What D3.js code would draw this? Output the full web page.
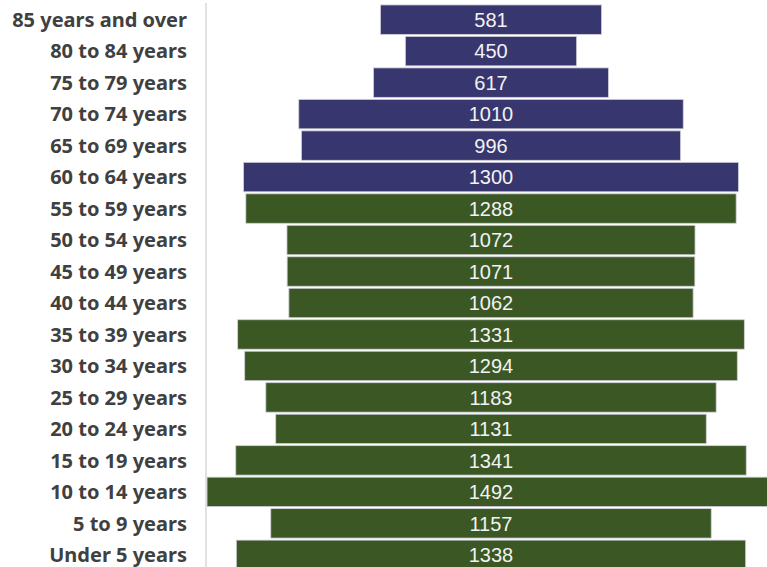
<!DOCTYPE html>
<html>
<head>
<meta charset="utf-8">
<script src="https://cdn.jsdelivr.net/npm/d3@7"></script>
<style>
  body { margin: 0; background: #fff; }
  .label { font-family: "Noto Sans", "Open Sans", sans-serif; font-weight: bold; fill: #404040; }
  .value { font-family: "Liberation Sans", Arial, sans-serif; fill: #f2f2f2; }
</style>
</head>
<body>
<div class="chart"></div>
<script>
const ageGroups = ["85 years and over", "80 to 84 years", "75 to 79 years", "70 to 74 years",
  "65 to 69 years", "60 to 64 years", "55 to 59 years", "50 to 54 years", "45 to 49 years",
  "40 to 44 years", "35 to 39 years", "30 to 34 years", "25 to 29 years", "20 to 24 years",
  "15 to 19 years", "10 to 14 years", "5 to 9 years", "Under 5 years"];
const population = [581, 450, 617, 1010, 996, 1300, 1288, 1072, 1071, 1062,
  1331, 1294, 1183, 1131, 1341, 1492, 1157, 1338];
const seniorGroups = ["85 years and over", "80 to 84 years", "75 to 79 years", "70 to 74 years",
  "65 to 69 years", "60 to 64 years"];

const data = ageGroups.map((g, i) => ({ group: g, value: population[i] }));

const width = 767, height = 567;
const svg = d3.select(".chart").append("svg")
    .attr("width", width)
    .attr("height", height);

const x = d3.scaleLinear()
    .domain([-750, 750])
    .range([205.5, 776.5]);

const y = d3.scaleBand()
    .domain(ageGroups)
    .range([4, 570.5])
    .paddingInner(0.065)
    .paddingOuter(0.03);

// axis line
svg.append("line")
    .attr("x1", 206).attr("x2", 206)
    .attr("y1", 3).attr("y2", height)
    .attr("stroke", "#d9d9d9")
    .attr("stroke-width", 1.5);

const rows = svg.selectAll(".row")
    .data(data).enter()
  .append("g")
    .attr("class", "row");

rows.append("rect")
    .attr("x", (d) => x(-d.value / 2))
    .attr("y", (d) => y(d.group))
    .attr("width", (d) => x(d.value / 2) - x(-d.value / 2))
    .attr("height", y.bandwidth())
    .attr("fill", (d) => seniorGroups.includes(d.group) ? "#38366f" : "#3a5724")
    .attr("stroke", "#d0d0d8")
    .attr("stroke-width", 0.8);

rows.append("text")
    .attr("class", "value")
    .attr("x", x(0))
    .attr("y", (d) => y(d.group) + y.bandwidth() / 2)
    .attr("dy", "0.36em")
    .attr("text-anchor", "middle")
    .attr("font-size", 20)
    .text((d) => d.value);

rows.append("text")
    .attr("class", "label")
    .attr("x", 187)
    .attr("y", (d) => y(d.group) + y.bandwidth() / 2)
    .attr("dy", "0.36em")
    .attr("text-anchor", "end")
    .attr("font-size", 20)
    .text((d) => d.group);
</script>
</body>
</html>
